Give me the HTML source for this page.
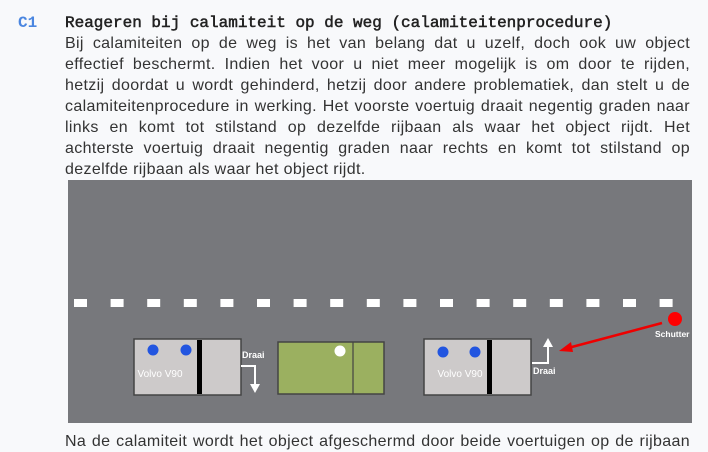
<!DOCTYPE html>
<html><head><meta charset="utf-8"><style>
body{margin:0;width:708px;height:435px;background:#f8f9fb;overflow:hidden;position:relative;font-family:"Liberation Sans",sans-serif;color:#222}
.c1{position:absolute;left:18px;top:13px;font:bold 16px/20px "Liberation Mono",monospace;color:#4a86e0}
.t{position:absolute;left:65px;top:13px;font:16px/20px "Liberation Mono",monospace;color:#222;white-space:nowrap;-webkit-text-stroke:0.5px #222}
.l{position:absolute;left:65px;width:625px;font-size:16px;line-height:21px;text-align:justify;text-align-last:justify;white-space:nowrap;letter-spacing:0.35px;color:#333}
.l.e{text-align-last:left}
</style></head><body>
<div class="c1">C1</div>
<div class="t">Reageren bij calamiteit op de weg (calamiteitenprocedure)</div>
<div class="l" style="top:33px">Bij calamiteiten op de weg is het van belang dat u uzelf, doch ook uw object</div>
<div class="l" style="top:54px">effectief beschermt. Indien het voor u niet meer mogelijk is om door te rijden,</div>
<div class="l" style="top:75px">hetzij doordat u wordt gehinderd, hetzij door andere problematiek, dan stelt u de</div>
<div class="l" style="top:96px">calamiteitenprocedure in werking. Het voorste voertuig draait negentig graden naar</div>
<div class="l" style="top:117px">links en komt tot stilstand op dezelfde rijbaan als waar het object rijdt. Het</div>
<div class="l" style="top:138px">achterste voertuig draait negentig graden naar rechts en komt tot stilstand op</div>
<div class="l e" style="top:159px">dezelfde rijbaan als waar het object rijdt.</div>
<div class="l" style="top:431px">Na de calamiteit wordt het object afgeschermd door beide voertuigen op de rijbaan</div>
<svg style="position:absolute;left:0;top:0" width="708" height="435">
<rect x="68" y="180" width="624" height="243" fill="#77787c"/>
<g fill="#fff">
<rect x="74" y="299" width="13" height="8"/><rect x="110.6" y="299" width="13" height="8"/><rect x="147.2" y="299" width="13" height="8"/><rect x="183.8" y="299" width="13" height="8"/><rect x="220.4" y="299" width="13" height="8"/><rect x="257" y="299" width="13" height="8"/><rect x="293.6" y="299" width="13" height="8"/><rect x="330.2" y="299" width="13" height="8"/><rect x="366.8" y="299" width="13" height="8"/><rect x="403.4" y="299" width="13" height="8"/><rect x="440" y="299" width="13" height="8"/><rect x="476.6" y="299" width="13" height="8"/><rect x="513.2" y="299" width="13" height="8"/><rect x="549.8" y="299" width="13" height="8"/><rect x="586.4" y="299" width="13" height="8"/><rect x="623" y="299" width="13" height="8"/><rect x="659.6" y="299" width="13" height="8"/>
</g>
<rect x="134" y="339" width="107" height="56" fill="#cdcaca" stroke="#444" stroke-width="1.5"/>
<rect x="197" y="340" width="5" height="54" fill="#000"/>
<circle cx="153" cy="350" r="5.5" fill="#2255e0"/><circle cx="186" cy="350" r="5.5" fill="#2255e0"/>
<text x="160" y="377" font-size="10" fill="#fff" text-anchor="middle" font-family="Liberation Sans">Volvo V90</text>
<rect x="278" y="342" width="106" height="52" fill="#9bb060" stroke="#444" stroke-width="1.5"/>
<line x1="353" y1="342" x2="353" y2="394" stroke="#444" stroke-width="1.2"/>
<circle cx="340" cy="351" r="5.5" fill="#fff"/>
<text x="242" y="358" font-size="9" font-weight="bold" fill="#fff" font-family="Liberation Sans">Draai</text>
<polyline points="241,366 255,366 255,386" fill="none" stroke="#fff" stroke-width="2"/>
<polygon points="250,384 260,384 255,393" fill="#fff"/>
<rect x="424" y="339" width="107" height="56" fill="#cdcaca" stroke="#444" stroke-width="1.5"/>
<rect x="487" y="340" width="5" height="54" fill="#000"/>
<circle cx="443" cy="352" r="5.5" fill="#2255e0"/><circle cx="475" cy="352" r="5.5" fill="#2255e0"/>
<text x="460" y="377" font-size="10" fill="#fff" text-anchor="middle" font-family="Liberation Sans">Volvo V90</text>
<text x="533" y="374" font-size="9" font-weight="bold" fill="#fff" font-family="Liberation Sans">Draai</text>
<polyline points="532,363 548,363 548,345" fill="none" stroke="#fff" stroke-width="2"/>
<polygon points="543,347 553,347 548,338" fill="#fff"/>
<line x1="662" y1="323" x2="568" y2="348" stroke="#e00" stroke-width="2.5"/>
<polygon points="559,351 571,342 573,352" fill="#e00"/>
<circle cx="675" cy="319" r="7" fill="#f00"/>
<text x="655" y="337" font-size="8.5" font-weight="bold" fill="#fff" font-family="Liberation Sans">Schutter</text>
</svg>
</body></html>
